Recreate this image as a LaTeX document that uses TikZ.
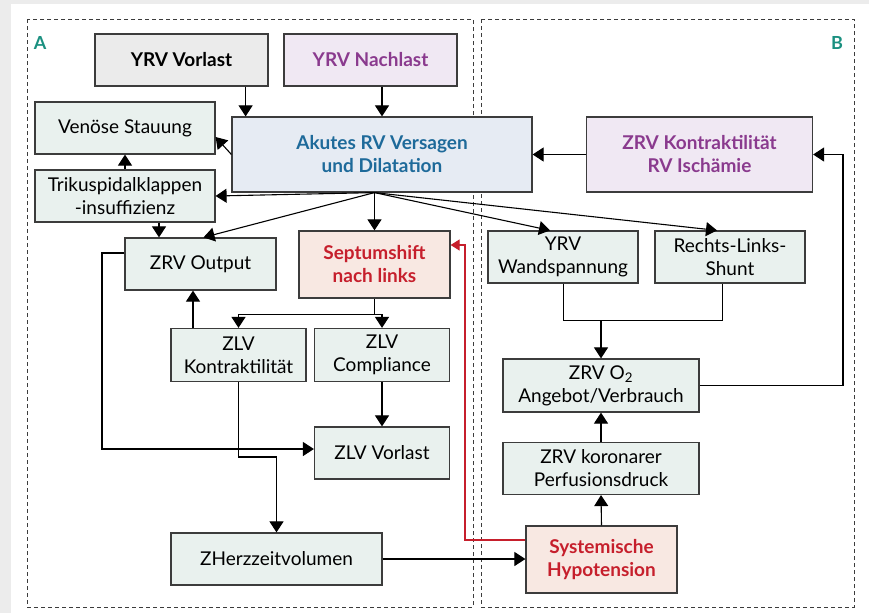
\documentclass[tikz,border=0pt]{standalone}
\usepackage{fontspec}
\setmainfont{Lato}
\usetikzlibrary{arrows.meta}
\definecolor{bgrey}{HTML}{ECECEC}
\definecolor{edge}{HTML}{3C3C3C}
\definecolor{fgreen}{HTML}{E9F1EE}
\definecolor{fblue}{HTML}{E6EBF3}
\definecolor{fpurple}{HTML}{F0E8F3}
\definecolor{fred}{HTML}{F8E8E2}
\definecolor{fgrey}{HTML}{EBEBEB}
\definecolor{tblue}{HTML}{1E6A9A}
\definecolor{tpurple}{HTML}{8A3A8E}
\definecolor{tred}{HTML}{C61F2C}
\definecolor{tteal}{HTML}{1A9080}
\begin{document}
\begin{tikzpicture}[x=1pt, y=-1pt,
	main/.style = {draw=edge, line width=1.2pt, fill=fgreen, align=center, inner sep=0pt, font=\fontsize{19}{23}\selectfont},
	hot/.style = {main, font=\fontsize{19}{23}\selectfont\bfseries},
	conn/.style = {draw=black, line width=1.1pt, -{Triangle[width=14pt,length=11pt]}},
	redconn/.style = {conn, draw=tred, -{Triangle[width=11pt,length=9pt]}, tred},
	frame/.style = {draw=edge, line width=1pt, dash pattern=on 4pt off 3pt},
	letter/.style = {text=tteal, font=\fontsize{18}{18}\selectfont\bfseries}]
	\fill[bgrey] (0,0) rectangle (869,613);
	\fill[white] (11,4) rectangle (869,613);
	\draw[frame] (27,19) rectangle (473,607);
	\draw[frame] (481,19) rectangle (854,607);
	\node[letter] (la) at (40,43) {A};
	\node[letter] (lb) at (837,43) {B};
	\node[hot, fill=fgrey, minimum width=173, minimum height=52] (vorlast) at (181.5,60) {YRV Vorlast};
	\node[hot, fill=fpurple, text=tpurple, minimum width=173, minimum height=52] (nachlast) at (370.5,60) {YRV Nachlast};
	\node[hot, fill=fblue, text=tblue, minimum width=300, minimum height=75] (akut) at (382,154.5) {Akutes RV Versagen\\und Dilatation};
	\node[main, minimum width=180, minimum height=52] (venoes) at (125,128) {Venöse Stauung};
	\node[main, minimum width=180, minimum height=52] (triku) at (125,196) {Trikuspidalklappen\\-insuffizienz};
	\node[main, minimum width=151, minimum height=52] (rvout) at (200.5,264) {ZRV Output};
	\node[hot, fill=fred, text=tred, minimum width=151, minimum height=67] (septum) at (374.5,264.5) {Septumshift\\nach links};
	\node[main, minimum width=135, minimum height=53] (lvkon) at (238.5,355) {ZLV\\Kontraktilität};
	\node[main, minimum width=135, minimum height=53] (lvcomp) at (382,355) {ZLV\\Compliance};
	\node[main, minimum width=135, minimum height=52] (lvvor) at (382,453) {ZLV Vorlast};
	\node[main, minimum width=211, minimum height=52] (hzv) at (276.5,559) {ZHerzzeitvolumen};
	\node[hot, fill=fpurple, text=tpurple, minimum width=226, minimum height=75] (rvkon) at (699.5,154.5) {ZRV Kontraktilität\\RV Ischämie};
	\node[main, minimum width=150, minimum height=52] (wand) at (563,257) {YRV\\Wandspannung};
	\node[main, minimum width=150, minimum height=52] (shunt) at (730,257) {Rechts-Links-\\Shunt};
	\node[main, minimum width=196, minimum height=53] (otwo) at (601,385.5) {ZRV O\textsubscript{2}\\Angebot/Verbrauch};
	\node[main, minimum width=196, minimum height=52] (koron) at (601,468.5) {ZRV koronarer\\Perfusionsdruck};
	\node[hot, fill=fred, text=tred, minimum width=151, minimum height=67] (hypo) at (601.5,559.5) {Systemische\\Hypotension};
	\coordinate (tx) at (159,0);
	\coordinate (ux) at (193,0);
	\coordinate (lx) at (102,0);
	\coordinate (rx) at (465,0);
	\coordinate (ox) at (843,0);
	\coordinate (hy) at (0,457);
	\coordinate (jy) at (0,320);
	\draw[conn] ([xshift=-23]vorlast.south east) coordinate (v1) -- (v1 |- akut.north);
	\draw[conn] (nachlast.south -| akut.north) -- (akut.north);
	\draw[conn] (akut.west) -- ([yshift=-9]venoes.east);
	\draw[conn] (triku.north) -- (venoes.south);
	\draw[conn] (septum.north |- akut.south) coordinate (fan) -- (triku.east);
	\draw[conn] (fan) -- ([xshift=3]rvout.north);
	\draw[conn] (fan) -- (septum.north);
	\draw[conn] (fan) -- ([xshift=-13]wand.north);
	\draw[conn] (fan) -- ([xshift=-13]shunt.north);
	\draw[conn] (tx |- triku.south) -- (tx |- rvout.north);
	\draw (septum.south) -- ([yshift=-16]septum.south) coordinate (sb);
	\draw[conn] (sb) -| (lvkon.north);
	\draw[conn] (sb) -| (lvcomp.north);
	\draw[conn] (ux |- lvkon.north) -- (ux |- rvout.south);
	\draw[conn] ([yshift=11]rvout.west) coordinate (ro) -- (ro -| lx) |- ([yshift=4]lvvor.west);
	\draw[conn] (lvcomp.south) -- (lvvor.north);
	\draw[conn] (lvkon.south) -- (lvkon.south |- hy) -| (hzv.north);
	\draw[conn] (hzv.east) -- (hzv.east -| hypo.west);
	\draw[redconn] ([yshift=19.5]hypo.west) coordinate (h1) -- (h1 -| rx) |- ([yshift=19.5]septum.east);
	\draw[conn] (hypo.north) -- (koron.south);
	\draw[conn] (koron.north) -- (otwo.south);
	\draw (wand.south) -- (wand.south |- jy) -| ([xshift=-8]shunt.south);
	\draw[conn] (otwo.north |- jy) -- (otwo.north);
	\draw[conn] (otwo.east) -- (otwo.east -| ox) |- (rvkon.east);
	\draw[conn] (rvkon.west) -- (akut.east);
\end{tikzpicture}
\end{document}
